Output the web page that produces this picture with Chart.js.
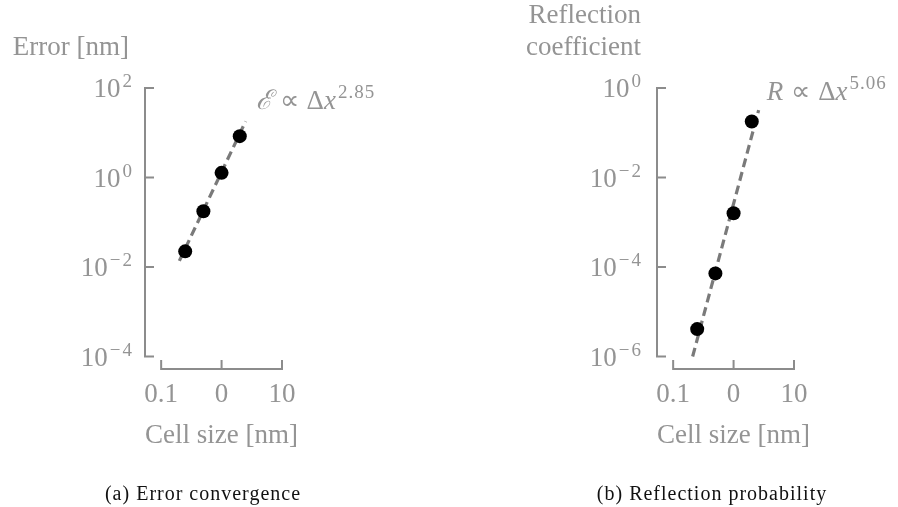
<!DOCTYPE html>
<html>
<head>
<meta charset="utf-8">
<script src="https://cdn.jsdelivr.net/npm/chart.js@4.4.1/dist/chart.umd.min.js"></script>
<style>
  html, body { margin: 0; padding: 0; background: #fff; }
  #wrap { position: relative; width: 898px; height: 507px; }
  .pane { position: absolute; top: 0; width: 449px; height: 507px; }
</style>
</head>
<body>
<div id="wrap">
  <div class="pane" style="left:0"><canvas id="errChart" width="449" height="507"></canvas></div>
  <div class="pane" style="left:449px"><canvas id="reflChart" width="449" height="507"></canvas></div>
</div>
<script>
/* ------------- DATA ------------- */
const cellSize     = [0.25, 0.5, 1, 2];
const errorValues  = [0.0224, 0.176, 1.27, 8.4];
const reflValues   = [4.1e-6, 7.2e-5, 0.00159, 0.179];

// fitted power laws (end points of the dashed lines)
const errFitX  = [0.2, 2.5];
const errFitY  = [0.0137, 18];
const reflFitX = [0.21, 2.6];
const reflFitY = [1e-6, 0.32];

const xTickValues    = [0.1, 1, 10];
const xTickLabels    = ["0.1", "0", "10"];
const errTickValues  = [100, 1, 0.01, 0.0001];
const errTickLabels  = ["10^2", "10^0", "10^\u22122", "10^\u22124"];
const reflTickValues = [1, 0.01, 0.0001, 0.000001];
const reflTickLabels = ["10^0", "10^\u22122", "10^\u22124", "10^\u22126"];

/* ------------- STYLE ------------- */
const FONT  = '"Liberation Serif", "Times New Roman", serif';
const TEXT  = "#949494";
const SPINE = "#8c8c8c";
const DASH  = "#7a7a7a";

/* ---------- axes / labels plugin ---------- */
function axesPlugin(cfg){
  return {
    id: "despined",
    afterDraw(chart){
      const ctx = chart.ctx;
      const xs = chart.scales.x, ys = chart.scales.y;
      const area = chart.chartArea;
      ctx.save();
      ctx.strokeStyle = SPINE;
      ctx.lineWidth = 2;
      ctx.lineCap = "butt";

      // y spine + inward ticks
      const yTop = ys.getPixelForValue(cfg.yTicks[0]);
      const yBot = ys.getPixelForValue(cfg.yTicks[cfg.yTicks.length - 1]);
      const sx = area.left + 1;
      ctx.beginPath();
      ctx.moveTo(sx, yTop - 1); ctx.lineTo(sx, yBot + 1);
      cfg.yTicks.forEach(v => {
        const p = ys.getPixelForValue(v);
        ctx.moveTo(sx - 1, p); ctx.lineTo(sx + 9, p);
      });
      ctx.stroke();

      // x spine + inward ticks
      const xL = xs.getPixelForValue(xTickValues[0]);
      const xR = xs.getPixelForValue(xTickValues[xTickValues.length - 1]);
      const sy = area.bottom - 1;
      ctx.beginPath();
      ctx.moveTo(xL - 1, sy); ctx.lineTo(xR + 1, sy);
      xTickValues.forEach(v => {
        const p = xs.getPixelForValue(v);
        ctx.moveTo(p, sy + 1); ctx.lineTo(p, sy - 9);
      });
      ctx.stroke();

      ctx.fillStyle = TEXT;
      ctx.textBaseline = "alphabetic";

      // y tick labels  (10 with raised exponent)
      cfg.yTicks.forEach((v, i) => {
        const [base, exp] = cfg.yLabels[i].split("^");
        const p = ys.getPixelForValue(v);
        ctx.font = "19px " + FONT;
        ctx.letterSpacing = "2px";
        const ew = ctx.measureText(exp).width;
        const right = area.left - cfg.labelGap;
        ctx.textAlign = "left";
        ctx.fillText(exp, right - ew + 2, p - 1);
        ctx.letterSpacing = "0px";
        ctx.textAlign = "right";
        ctx.font = "27px " + FONT;
        ctx.fillText(base, right - ew, p + 9);
      });

      // x tick labels
      ctx.font = "27px " + FONT;
      ctx.textAlign = "center";
      xTickValues.forEach((v, i) => {
        ctx.fillText(xTickLabels[i], xs.getPixelForValue(v), area.bottom + 32);
      });

      // x title
      ctx.fillText("Cell size [nm]", (xL + xR) / 2, area.bottom + 73);

      // y title, horizontal above the axis
      ctx.textAlign = "right";
      const n = cfg.yTitle.length;
      cfg.yTitle.forEach((line, i) => {
        ctx.fillText(line, area.left - 15, area.top - 33 - (n - 1 - i) * 32);
      });

      // fit annotation at the end of the dashed line
      const fx = xs.getPixelForValue(cfg.fitX[cfg.fitX.length - 1]) + cfg.annDx;
      const fy = ys.getPixelForValue(cfg.fitY[cfg.fitY.length - 1]) + cfg.annDy;
      ctx.textAlign = "left";
      let cx = fx;
      ctx.font = "italic 27px " + FONT;
      ctx.fillText(cfg.symbol, cx, fy); cx += ctx.measureText(cfg.symbol).width + 8;
      ctx.font = "27px " + FONT;
      ctx.fillText("\u221D", cx, fy); cx += ctx.measureText("\u221D").width + 8;
      ctx.fillText("\u0394", cx, fy); cx += ctx.measureText("\u0394").width;
      ctx.font = "italic 27px " + FONT;
      ctx.fillText("x", cx, fy); cx += ctx.measureText("x").width + 2;
      ctx.font = "19px " + FONT;
      ctx.letterSpacing = "1px";
      ctx.fillText(cfg.exponent, cx, fy - 11);
      ctx.letterSpacing = "0px";

      // caption
      ctx.fillStyle = "#111";
      ctx.font = "20px " + FONT;
      ctx.letterSpacing = "1px";
      ctx.textAlign = "center";
      ctx.fillText(cfg.caption, cfg.captionX, 500);
      ctx.restore();
    }
  };
}

function makeChart(id, cfg){
  const ctx = document.getElementById(id).getContext("2d");
  return new Chart(ctx, {
    type: "scatter",
    data: {
      datasets: [
        {
          data: cellSize.map((x, i) => ({x, y: cfg.values[i]})),
          pointRadius: 7,
          pointHoverRadius: 7,
          backgroundColor: "#000",
          borderColor: "#000",
          borderWidth: 0
        },
        {
          data: cfg.fitX.map((x, i) => ({x, y: cfg.fitY[i]})),
          showLine: true,
          pointRadius: 0,
          borderColor: DASH,
          borderWidth: 3.2,
          borderDash: [9, 5],
          fill: false
        }
      ]
    },
    options: {
      responsive: false,
      animation: false,
      events: [],
      layout: { padding: { left: 0, top: 88, right: cfg.padRight, bottom: 0 } },
      plugins: { legend: { display: false }, tooltip: { enabled: false }, title: { display: false } },
      scales: {
        x: {
          type: "logarithmic", min: 0.052, max: 10,
          grid: { display: false, drawTicks: false },
          border: { display: false },
          ticks: { display: false },
          afterFit: s => { s.height = 137; }
        },
        y: {
          type: "logarithmic", min: cfg.yMin, max: cfg.yTicks[0],
          grid: { display: false, drawTicks: false },
          border: { display: false },
          ticks: { display: false },
          afterFit: s => { s.width = cfg.leftW; }
        }
      }
    },
    plugins: [axesPlugin(cfg)]
  });
}

makeChart("errChart", {
  values: errorValues, fitX: errFitX, fitY: errFitY,
  yTicks: errTickValues, yLabels: errTickLabels, yMin: 5e-5,
  yTitle: ["Error [nm]"], symbol: "\u2130", exponent: "2.85",
  caption: "(a) Error convergence", captionX: 203,
  leftW: 144, padRight: 167, labelGap: 12, annDx: 10, annDy: -12
});

makeChart("reflChart", {
  values: reflValues, fitX: reflFitX, fitY: reflFitY,
  yTicks: reflTickValues, yLabels: reflTickLabels, yMin: 5e-7,
  yTitle: ["Reflection", "coefficient"], symbol: "R", exponent: "5.06",
  caption: "(b) Reflection probability", captionX: 263,
  leftW: 207, padRight: 104, labelGap: 15, annDx: 8, annDy: -10
});
</script>
</body>
</html>
